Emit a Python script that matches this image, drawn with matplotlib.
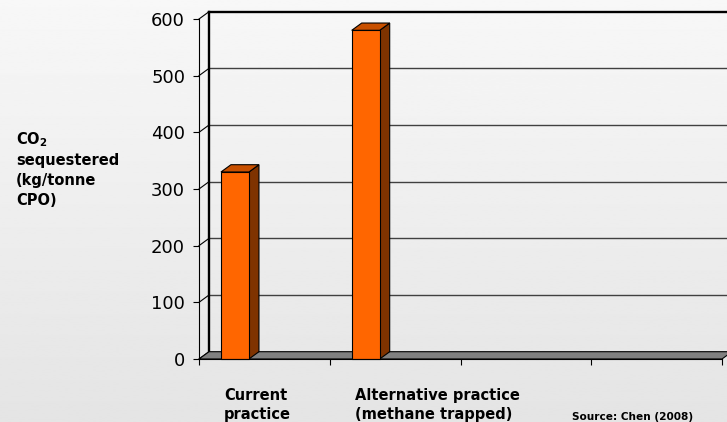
import matplotlib
matplotlib.use('Agg')
import matplotlib.pyplot as plt
import numpy as np
from matplotlib.patches import Polygon, Rectangle

# ========== datos ==========
categories = ['Current\npractice', 'Alternative practice\n(methane trapped)', '', '']
values = [330, 580]
y_ticks = [0, 100, 200, 300, 400, 500, 600]
y_label = 'CO$_\\mathbf{2}$\nsequestered\n(kg/tonne\nCPO)'
source = 'Source: Chen (2008)'

W, H = 727, 422
fig = plt.figure(figsize=(W / 100, H / 100), dpi=100)

# fondo degradado
bg = fig.add_axes([0, 0, 1, 1], zorder=-10)
grad = np.linspace(0.97, 0.895, 256).reshape(-1, 1)
bg.imshow(grad, cmap='gray', vmin=0, vmax=1, aspect='auto', extent=[0, 1, 0, 1])
bg.axis('off')

# plano frontal del grafico 3D
ax = fig.add_axes([199 / W, (H - 359) / H, 523 / W, 340 / H])
ax.patch.set_visible(False)
n_cat = len(categories)
ax.set_xlim(0, n_cat)
ax.set_ylim(0, y_ticks[-1])

# profundidad (en unidades de datos)
dx = 10 / (523 / n_cat)
dy = 7.3 / (340 / y_ticks[-1])

# pared del fondo
for v in y_ticks[1:-1]:
    ax.plot([dx, n_cat + dx], [v + dy, v + dy], color='#404040', lw=1, clip_on=False, zorder=1)
ax.plot([dx, n_cat + dx], [y_ticks[-1] + dy] * 2, color='k', lw=1.7, clip_on=False, zorder=1.5)
ax.plot([dx, dx], [dy, y_ticks[-1] + dy], color='k', lw=1.7, clip_on=False, zorder=1.5)

# lineas de la pared lateral
for v in y_ticks:
    ax.plot([0, dx], [v, v + dy], color='k', lw=0.8, clip_on=False, zorder=1.5)

# piso
floor = Polygon([(0, 0), (n_cat, 0), (n_cat + dx, dy), (dx, dy)], closed=True,
                fc='#808080', ec='k', lw=0.8, clip_on=False, zorder=2)
ax.add_patch(floor)

# barras
bar_off = 0.168
bar_w = 0.214
for i, v in enumerate(values):
    x0 = i + bar_off
    side = Polygon([(x0 + bar_w, 0), (x0 + bar_w + dx, dy), (x0 + bar_w + dx, v + dy), (x0 + bar_w, v)],
                   closed=True, fc='#7f3300', ec='k', lw=0.8, clip_on=False, zorder=3)
    top = Polygon([(x0, v), (x0 + bar_w, v), (x0 + bar_w + dx, v + dy), (x0 + dx, v + dy)],
                  closed=True, fc='#c85000', ec='k', lw=0.8, clip_on=False, zorder=3)
    front = Rectangle((x0, 0), bar_w, v, fc='#ff6600', ec='k', lw=0.8, clip_on=False, zorder=4)
    ax.add_patch(side)
    ax.add_patch(top)
    ax.add_patch(front)

# ejes
for s in ['top', 'right']:
    ax.spines[s].set_visible(False)
ax.spines['left'].set_linewidth(0.8)
ax.spines['bottom'].set_linewidth(0.8)
ax.spines['left'].set_zorder(5)
ax.spines['bottom'].set_zorder(5)
ax.set_yticks(y_ticks)
ax.set_yticklabels([str(t) for t in y_ticks])
ax.tick_params(axis='y', length=4, width=0.8, pad=6, labelsize=13)
ax.set_xticks(range(n_cat + 1))
ax.set_xticklabels([])
ax.tick_params(axis='x', length=4, width=0.8, direction='out')

for i, c in enumerate(categories):
    ax.text(i + 0.191, -0.085, c, transform=ax.get_xaxis_transform(), ha='left', va='top',
            fontsize=10.5, fontweight='bold', linespacing=1.3)

fig.text(16 / W, 1 - 130 / H, y_label, ha='left', va='top', fontsize=10.5,
         fontweight='bold', linespacing=1.4)
fig.text(572 / W, 1 - 420 / H, source, ha='left', va='baseline', fontsize=7.6, fontweight='bold')

plt.savefig('out.png', dpi=100)
plt.close(fig)
